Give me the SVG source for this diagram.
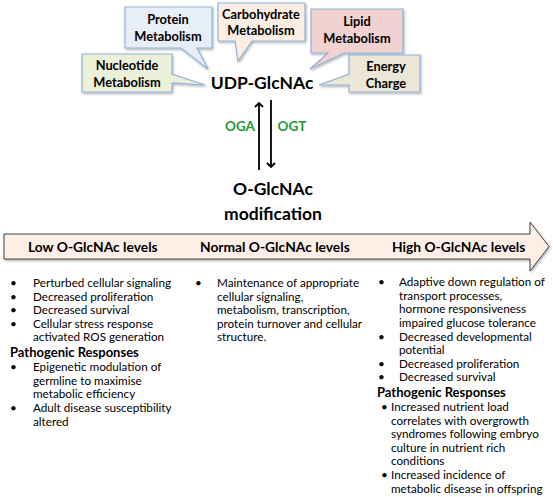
<svg xmlns="http://www.w3.org/2000/svg" width="553" height="497" viewBox="0 0 553 497">
<defs>
<filter id="sh" x="-10%" y="-10%" width="130%" height="140%">
<feDropShadow dx="1" dy="1.5" stdDeviation="1" flood-color="#000" flood-opacity="0.3"/>
</filter>
<marker id="ah" markerWidth="10" markerHeight="10" refX="5" refY="5" orient="auto" markerUnits="userSpaceOnUse">
<path d="M1,1 L5,5 L1,9" fill="none" stroke="#000" stroke-width="1.8"/>
</marker>
</defs>
<style>
.call{stroke:#8eb1dc;stroke-width:1.2;filter:url(#sh)}
.bt{font-family:Lato,"Liberation Sans",sans-serif;font-weight:bold;font-size:12.8px;fill:#000;text-anchor:middle}
.big{font-family:Lato,"Liberation Sans",sans-serif;font-weight:bold;font-size:17.5px;fill:#000;text-anchor:middle}
.enz{font-family:Lato,"Liberation Sans",sans-serif;font-weight:bold;font-size:13.5px;fill:#1e9a3c;text-anchor:middle}
.lvl{font-family:Lato,"Liberation Sans",sans-serif;font-weight:bold;font-size:13.8px;fill:#000}
.tx{font-family:Lato,"Liberation Sans",sans-serif;font-size:11.7px;fill:#000}
.hd{font-family:Lato,"Liberation Sans",sans-serif;font-weight:bold;font-size:13px;fill:#000}
.ln{stroke:#000;stroke-width:1.8;fill:none}
</style>

<g id="protein">
<path class="call" fill="#e8eef8" d="M125,7 H212 V48 H197 L208,69 L181,48 H125 Z"/>
<text class="bt" x="168" y="24">Protein</text>
<text class="bt" x="168" y="41">Metabolism</text>
</g>
<g id="carbohydrate">
<path class="call" fill="#fdeee3" d="M218,3 H305 V41 H252 L238,61 L235,41 H218 Z"/>
<text class="bt" x="261" y="19">Carbohydrate</text>
<text class="bt" x="261" y="35">Metabolism</text>
</g>
<g id="lipid">
<path class="call" fill="#f2d1d1" d="M311,9 H403 V53 H344 L310,69 L328,53 H311 Z"/>
<text class="bt" x="357" y="26">Lipid</text>
<text class="bt" x="357" y="43">Metabolism</text>
</g>
<g id="nucleotide">
<path class="call" fill="#ebf0d9" d="M82,54 H172 V74 L205,85 L172,83 V92 H82 Z"/>
<text class="bt" x="127" y="70">Nucleotide</text>
<text class="bt" x="127" y="87">Metabolism</text>
</g>
<g id="energy">
<path class="call" fill="#ebe6d6" d="M349,55 H420 V92 H349 V85 L319,85 L349,74 Z"/>
<text class="bt" x="386" y="71">Energy</text>
<text class="bt" x="386" y="88">Charge</text>
</g>
<g id="udp">
<text class="big" x="262" y="89">UDP-GlcNAc</text>
</g>

<g id="connectors">
<line class="ln" x1="259" y1="170" x2="259" y2="103" marker-end="url(#ah)"/>
<line class="ln" x1="271" y1="100" x2="271" y2="167" marker-end="url(#ah)"/>
</g>
<text class="enz" x="240" y="131">OGA</text>
<text class="enz" x="292" y="131">OGT</text>

<g id="oglcnac">
<text class="big" x="273" y="195">O-GlcNAc</text>
<text class="big" x="273" y="220">modification</text>
</g>

<g id="levels">
<path d="M4,234 H530 V222 L549,246.5 L530,271 V259 H4 Z" fill="#fdefe5" stroke="#444" stroke-width="1" filter="url(#sh)"/>
<text class="lvl" x="28" y="252">Low O-GlcNAc levels</text>
<text class="lvl" x="200" y="252">Normal O-GlcNAc levels</text>
<text class="lvl" x="392" y="252">High O-GlcNAc levels</text>
</g>

<g id="low">
<text class="tx" x="10" y="287">•</text><text class="tx" x="33" y="287">Perturbed cellular signaling</text>
<text class="tx" x="10" y="300.5">•</text><text class="tx" x="33" y="300.5">Decreased proliferation</text>
<text class="tx" x="10" y="314">•</text><text class="tx" x="33" y="314">Decreased survival</text>
<text class="tx" x="10" y="327.5">•</text><text class="tx" x="33" y="327.5">Cellular stress response</text>
<text class="tx" x="33" y="341">activated ROS generation</text>
<text class="hd" x="10" y="357">Pathogenic Responses</text>
<text class="tx" x="10" y="371">•</text><text class="tx" x="33" y="371">Epigenetic modulation of</text>
<text class="tx" x="33" y="384.5">germline to maximise</text>
<text class="tx" x="33" y="398">metabolic efficiency</text>
<text class="tx" x="10" y="412">•</text><text class="tx" x="33" y="412">Adult disease susceptibility</text>
<text class="tx" x="33" y="425.5">altered</text>
</g>

<g id="normal">
<text class="tx" x="195" y="287">•</text><text class="tx" x="217" y="287">Maintenance of appropriate</text>
<text class="tx" x="217" y="300.5">cellular signaling,</text>
<text class="tx" x="217" y="314">metabolism, transcription,</text>
<text class="tx" x="217" y="327.5">protein turnover and cellular</text>
<text class="tx" x="217" y="341">structure.</text>
</g>

<g id="high">
<text class="tx" x="378" y="286">•</text><text class="tx" x="399" y="286">Adaptive down regulation of</text>
<text class="tx" x="399" y="299.5">transport processes,</text>
<text class="tx" x="399" y="313">hormone responsiveness</text>
<text class="tx" x="399" y="326.5">impaired glucose tolerance</text>
<text class="tx" x="378" y="340.5">•</text><text class="tx" x="399" y="340.5">Decreased developmental</text>
<text class="tx" x="399" y="354">potential</text>
<text class="tx" x="378" y="367.5">•</text><text class="tx" x="399" y="367.5">Decreased proliferation</text>
<text class="tx" x="378" y="381">•</text><text class="tx" x="399" y="381">Decreased survival</text>
<text class="hd" x="377" y="397">Pathogenic Responses</text>
<text class="tx" x="381" y="411">•</text><text class="tx" x="391" y="411">Increased nutrient load</text>
<text class="tx" x="391" y="424.5">correlates with overgrowth</text>
<text class="tx" x="391" y="438">syndromes following embryo</text>
<text class="tx" x="391" y="451.5">culture in nutrient rich</text>
<text class="tx" x="391" y="465">conditions</text>
<text class="tx" x="381" y="479">•</text><text class="tx" x="391" y="479">Increased incidence of</text>
<text class="tx" x="391" y="492.5">metabolic disease in offspring</text>
</g>
</svg>
